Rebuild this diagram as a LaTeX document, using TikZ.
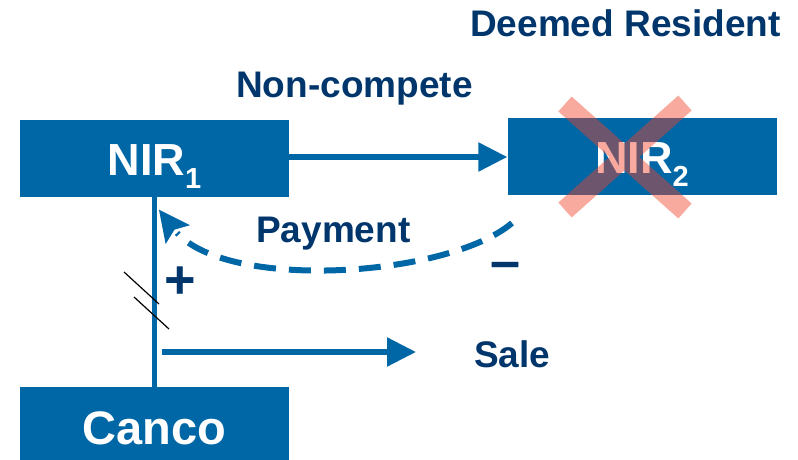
\documentclass[tikz,border=0pt]{standalone}
\usepackage{fontspec}
\setmainfont{Liberation Sans}
\usetikzlibrary{arrows.meta}

\definecolor{boxblue}{RGB}{0,103,167}
\definecolor{navy}{RGB}{0,54,107}
\definecolor{salmon}{RGB}{242,66,40}

\tikzset{
  entity/.style={fill=boxblue, draw=none, minimum width=269pt, minimum height=77pt,
    inner sep=0pt, text=white, font=\bfseries\fontsize{45}{45}\selectfont,
    text height=33pt, text depth=0pt},
  lbl/.style={text=navy, font=\bfseries\fontsize{37}{37}\selectfont, inner sep=0pt, anchor=base west},
  sign/.style={text=navy, font=\bfseries\fontsize{54}{54}\selectfont, inner sep=0pt},
  flow/.style={draw=boxblue, line width=5.5pt, -{Triangle[length=29pt, width=28pt]}},
  link/.style={draw=boxblue, line width=5.5pt},
  cut/.style={draw=black, line width=1.2pt},
  headfill/.style={fill=boxblue, draw=boxblue, solid, line width=1.5pt, line join=miter},
}

\newcommand{\subone}[1]{\raisebox{-13pt}{\fontsize{29}{29}\selectfont #1}}

\begin{document}
\begin{tikzpicture}[x=1pt, y=-1pt]
  \useasboundingbox (0,0) rectangle (798,460);

  % entities
  \node[entity] (nir1) at (154.5,158.5) {NIR\subone{1}};
  \node[entity] (nir2) at (642,156.5) {NIR\subone{2}};
  \node[entity, font=\bfseries\fontsize{47}{47}\selectfont, minimum height=81pt] (canco) at (154.5,427.5) {Canco};

  % ownership line with break marks
  \draw[link] (nir1.south) -- (canco.north);
  \coordinate (brkA1) at (124,272);
  \coordinate (brkA2) at (159,304);
  \coordinate (brkB1) at (134,297);
  \coordinate (brkB2) at (169,329);
  \draw[cut] (brkA1) -- (brkA2);
  \draw[cut] (brkB1) -- (brkB2);

  % non-compete flow
  \draw[flow] (nir1.east |- 0,157) -- (nir2.west |- 0,157);

  % payment flow back to NIR1: dashed body plus a solid head
  \coordinate (payS) at (512,223);
  \coordinate (payTip) at (160,211);
  \coordinate (payC1) at (188,225);
  \coordinate (payNotch) at (174,229);
  \coordinate (payC2) at (166,242);
  \coordinate (payEnd) at (177,233);
  \draw[boxblue, line width=6pt, dash pattern=on 22pt off 13pt]
    (payS) .. controls (450,276) and (232,292) .. (payEnd);
  \path[headfill] (payTip) -- (payC1) -- (payNotch) -- (payC2) -- cycle;

  % sale flow
  \coordinate (saleS) at (162,352);
  \coordinate (saleE) at (416,352);
  \draw[flow] (saleS) -- (saleE);

  % labels
  \node[lbl] (tDeemed) at (470,37) {Deemed Resident};
  \node[lbl] (tNonc) at (236,97) {Non-compete};
  \node[lbl] (tPay) at (256,242) {Payment};
  \node[lbl] (tSale) at (474,367) {Sale};
  \node[sign] (tPlus) at (180,283) {+};
  \node[sign] (tMinus) at (506,271) {–};

  % struck-out mark over NIR2
  \coordinate (xA) at (565,104);
  \coordinate (xB) at (685,211);
  \coordinate (xC) at (685,103);
  \coordinate (xD) at (565,210);
  \begin{scope}[transparency group, opacity=0.45]
    \draw[draw=salmon, line width=20pt] (xA) -- (xB);
    \draw[draw=salmon, line width=20pt] (xC) -- (xD);
  \end{scope}
\end{tikzpicture}
\end{document}
